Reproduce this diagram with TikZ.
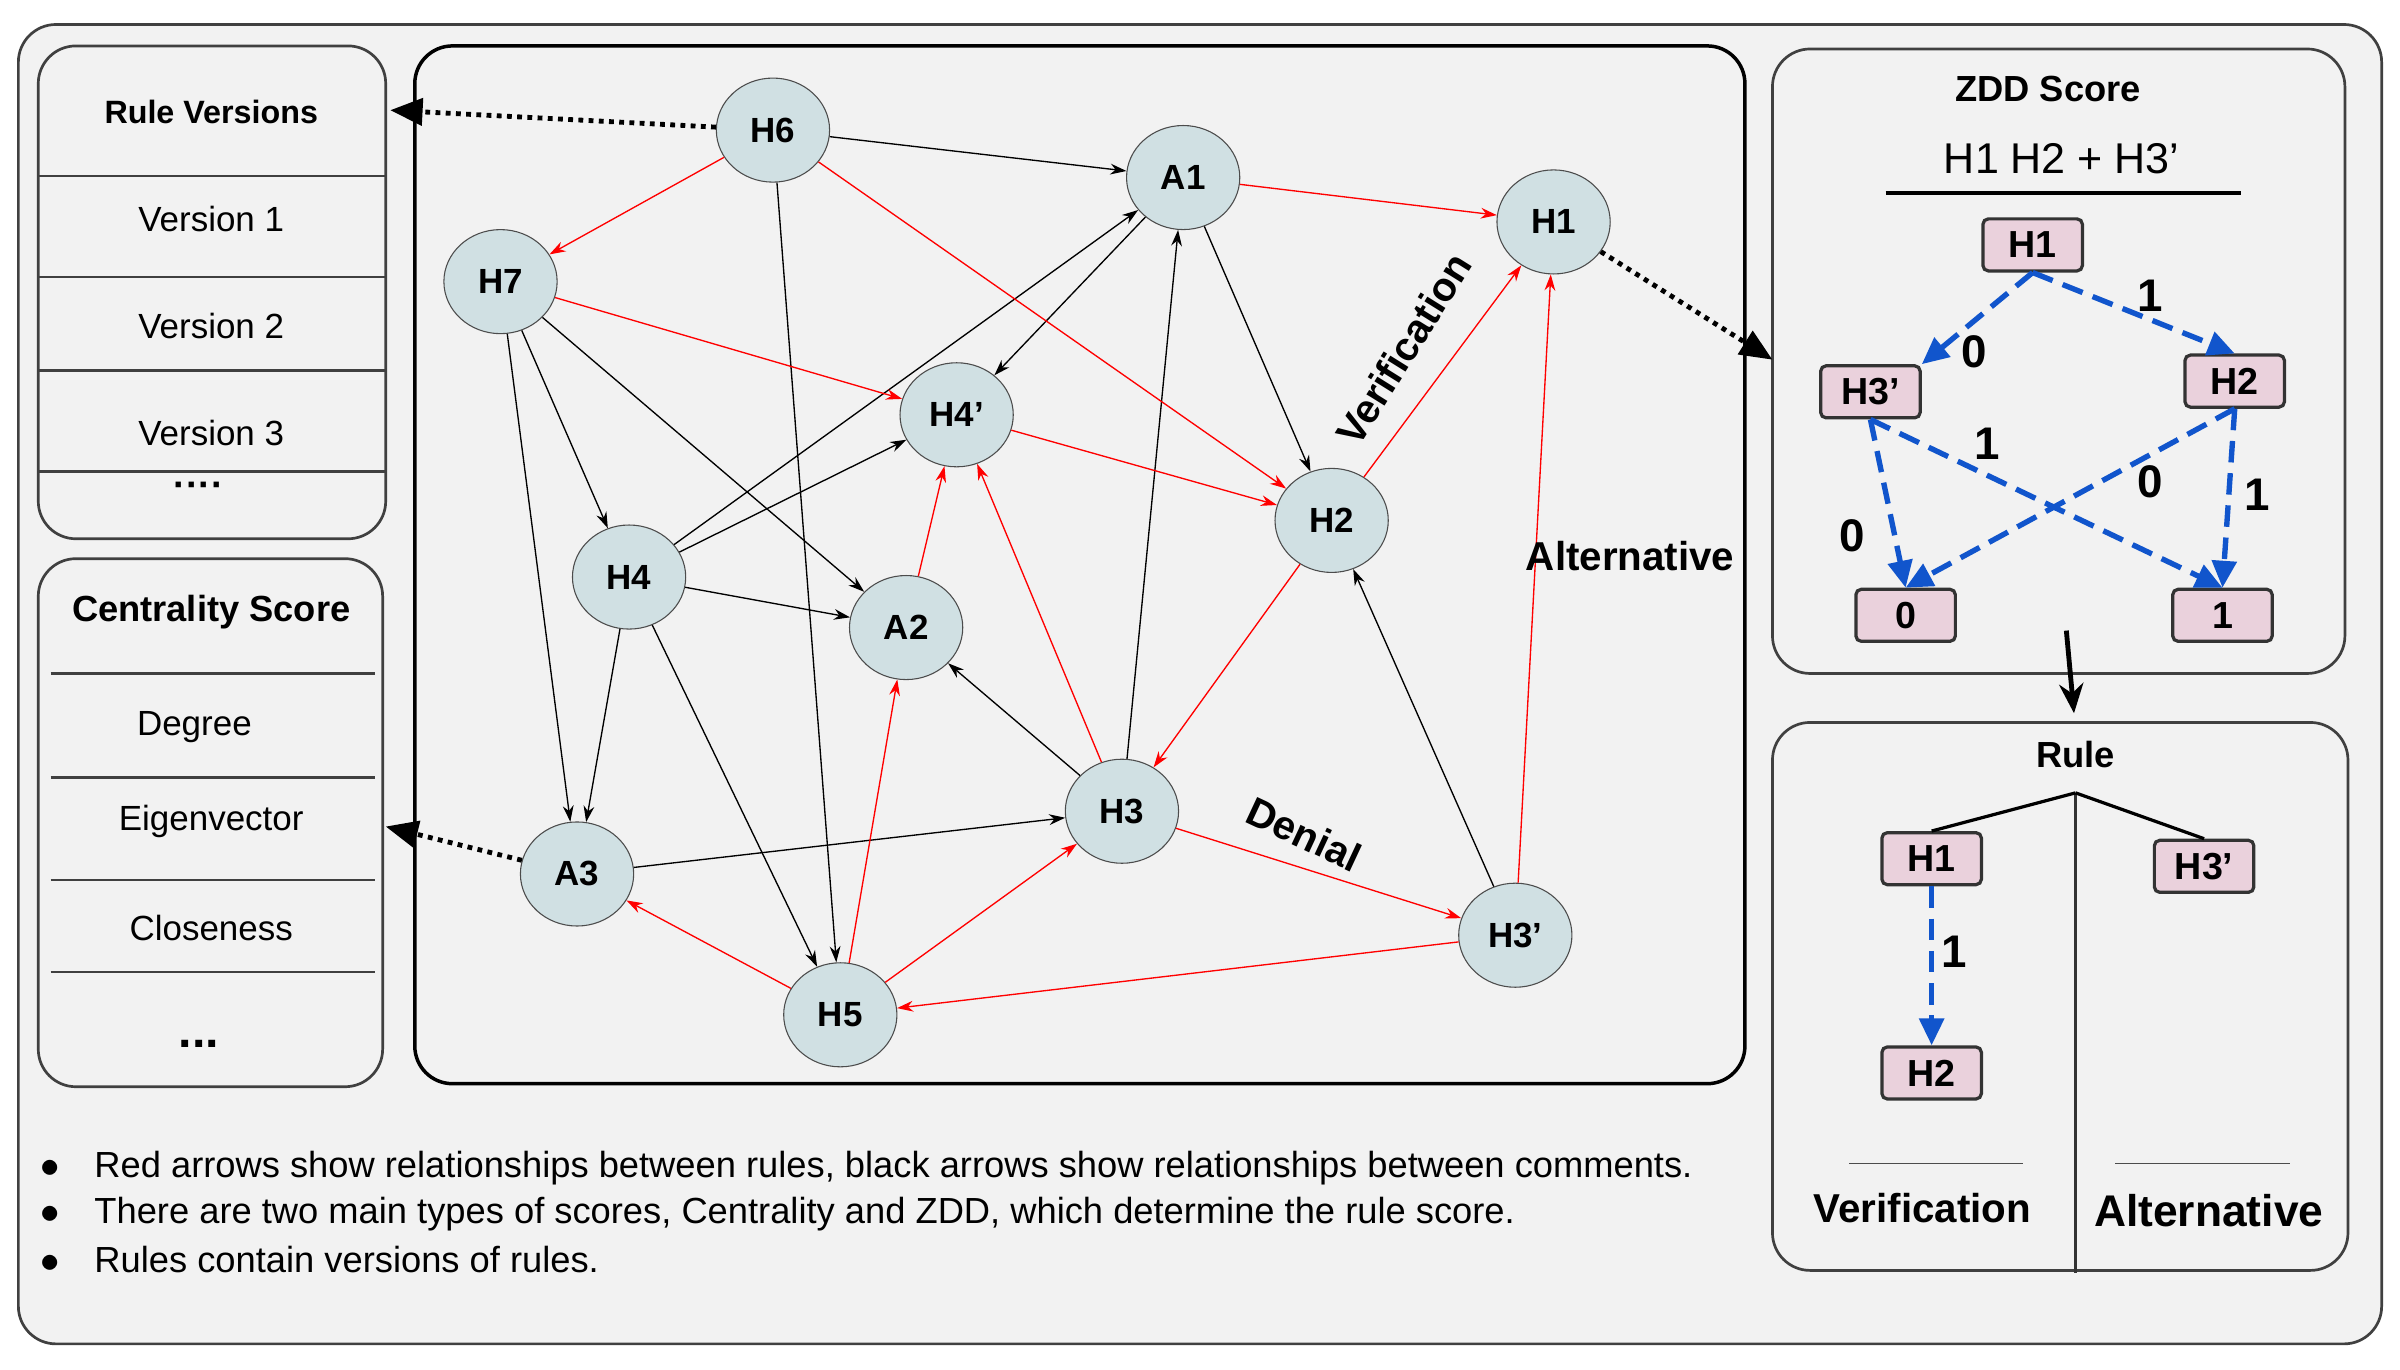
\documentclass[tikz,border=0pt]{standalone}
\usepackage{fontspec}
\setmainfont{Liberation Sans}
\usetikzlibrary{arrows.meta,shapes.geometric}
\definecolor{ndfill}{RGB}{208,224,227}
\definecolor{pkfill}{RGB}{234,209,220}
\definecolor{dblue}{RGB}{17,85,204}
\begin{document}
\begin{tikzpicture}[x=0.02cm,y=-0.02cm,
 box/.style={draw=black!75,line width=1pt,rounded corners=14pt,fill=gray!10},
 nd/.style={ellipse,draw=black!70,fill=ndfill,minimum width=1.48cm,minimum height=1.36cm,inner sep=0pt,font=\bfseries\fontsize{13}{14}\selectfont},
 pk/.style={rectangle,rounded corners=2pt,draw=black!80,line width=1.2pt,fill=pkfill,minimum width=1.3cm,minimum height=0.68cm,inner sep=1pt,font=\bfseries\fontsize{14}{15}\selectfont},
 txt/.style={font=\fontsize{13}{15}\selectfont},
 bk/.style={-{Stealth[length=6pt,width=4pt]},black,line width=0.5pt},
 rd/.style={-{Stealth[length=6pt,width=4pt]},red,line width=0.5pt},
 bl/.style={-{Triangle[length=10pt,width=9pt]},dblue,dashed,dash pattern=on 8pt off 4pt,line width=2pt},
 dt/.style={-{Triangle[length=12pt,width=10pt]},dotted,line width=1.8pt},
 lb/.style={font=\bfseries\fontsize{15}{16}\selectfont},
 zl/.style={font=\bfseries\fontsize{17}{18}\selectfont},
]
\path[use as bounding box,fill=white] (0,0) rectangle (1568,895);
\draw[box] (12,16) rectangle (1556,878);
% Rule versions
\draw[box] (25,30) rectangle (252,352);
\node[font=\bfseries\fontsize{12}{14}\selectfont] (rvt) at (138,73) {Rule Versions};
\foreach \y in {115,181,242,308} \draw[black!75,line width=1pt] (25,\y) -- (252,\y);
\node[txt] (v1) at (138,143) {Version 1};
\node[txt] (v2) at (138,213) {Version 2};
\node[txt] (v3) at (138,283) {Version 3};
\node[font=\bfseries\fontsize{14}{14}\selectfont] (vd) at (130,320) {····};
% Centrality
\draw[box] (25,365) rectangle (250,710);
\node[font=\bfseries\fontsize{13.5}{15}\selectfont] (cst) at (138,400) {Centrality Score};
\foreach \y in {440,508,575,635} \draw[black!75,line width=1pt] (33,\y) -- (245,\y);
\node[txt] (c1) at (127,475) {Degree};
\node[txt] (c2) at (138,537) {Eigenvector};
\node[txt] (c3) at (138,606) {Closeness};
\node[font=\bfseries\fontsize{18}{18}\selectfont] (c4) at (130,682) {...};
% graph box
\draw[box,draw=black,line width=1.3pt] (271,30) rectangle (1140,708);
\node[nd] (H6) at (505,85) {H6};
\node[nd] (A1) at (773,116) {A1};
\node[nd] (H1) at (1015,145) {H1};
\node[nd] (H7) at (327,184) {H7};
\node[nd] (H4p) at (625,271) {H4’};
\node[nd] (H2) at (870,340) {H2};
\node[nd] (H4) at (411,377) {H4};
\node[nd] (A2) at (592,410) {A2};
\node[nd] (H3) at (733,530) {H3};
\node[nd] (A3) at (377,571) {A3};
\node[nd] (H3p) at (990,611) {H3’};
\node[nd] (H5) at (549,663) {H5};
\foreach \a/\b in {H6/A1,H6/H5,H7/H4,H7/A2,H7/A3,H4/A1,H4/H4p,H4/A2,H4/A3,H4/H5,A1/H4p,A1/H2,H3/A1,H3/A2,H3p/H2,A3/H3}
  \draw[bk] (\a) -- (\b);
\foreach \a/\b in {A1/H1,H6/H7,H6/H2,H7/H4p,H4p/H2,A2/H4p,H3/H4p,H2/H3,H2/H1,H3/H3p,H3p/H1,H3p/H5,H5/A3,H5/A2,H5/H3}
  \draw[rd] (\a) -- (\b);
\node[lb,rotate=58,inner sep=0pt] (lver) at (917,228) {Verification};
\node[lb] (lalt) at (1065,363) {Alternative};
\node[lb,rotate=-25,inner sep=0pt] (lden) at (852,545) {Denial};
% ZDD
\draw[box] (1158,32) rectangle (1532,440);
\node[font=\bfseries\fontsize{13.5}{15}\selectfont] (zt) at (1338,58) {ZDD Score};
\node[font=\fontsize{16}{18}\selectfont] (zf) at (1347,104) {H1 H2 + H3’};
\draw[line width=1.3pt] (1232,126) -- (1464,126);
\node[pk] (z1) at (1328,160) {H1};
\node[pk] (z3) at (1222,256) {H3’};
\node[pk] (z2) at (1460,249) {H2};
\node[pk] (z0) at (1245,402) {0};
\node[pk] (zo) at (1452,402) {1};
\draw[bl] (z1.south) -- (z3.north east);
\draw[bl] (z1.south) -- (z2.north);
\draw[bl] (z3.south) -- (z0.north);
\draw[bl] (z3.south) -- (zo.north);
\draw[bl] (z2.south) -- (z0.north);
\draw[bl] (z2.south) -- (zo.north);
\node[zl] (l1) at (1290,230) {0};
\node[zl] (l2) at (1405,193) {1};
\node[zl] (l3) at (1210,350) {0};
\node[zl] (l4) at (1298,290) {1};
\node[zl] (l5) at (1405,315) {0};
\node[zl] (l6) at (1475,323) {1};
% Rule box
\draw[box] (1158,472) rectangle (1534,830);
\coordinate (za) at (1350,412);
\coordinate (zb) at (1355,466);
\draw[-{Stealth[length=11pt,width=9pt]},line width=1.8pt] (za) -- (zb);
\node[font=\bfseries\fontsize{13.5}{15}\selectfont] (rt) at (1356,493) {Rule};
\coordinate (rr) at (1356,518);
\coordinate (rb) at (1356,832);
\draw[line width=1pt,black!80] (rr) -- (rb);
\node[pk] (r1) at (1262,561) {H1};
\node[pk] (r3) at (1440,566) {H3’};
\node[pk] (r2) at (1262,701) {H2};
\draw[line width=1.2pt] (rr) -- (r1.north);
\draw[line width=1.2pt] (rr) -- (r3.north);
\draw[bl] (r1) -- (r2);
\node[zl] (l7) at (1277,622) {1};
\draw[black!70] (1208,760) -- (1322,760);
\draw[black!70] (1382,760) -- (1496,760);
\node[font=\bfseries\fontsize{15}{17}\selectfont] (rv) at (1256,789) {Verification};
\node[font=\bfseries\fontsize{16.5}{18}\selectfont] (ra) at (1443,791) {Alternative};
% dotted arrows
\coordinate (rvp) at (255,72);
\coordinate (csp) at (252,540);
\coordinate (zdp) at (1158,235);
\draw[dt] (H6) -- (rvp);
\draw[dt] (A3) -- (csp);
\draw[dt] (H1) -- (zdp);
% bullets
\node[anchor=west,font=\fontsize{13.5}{15}\selectfont] (b1) at (20,763) {$\bullet$\hspace{13pt}Red arrows show relationships between rules, black arrows show relationships between comments.};
\node[anchor=west,font=\fontsize{13.5}{15}\selectfont] (b2) at (20,793) {$\bullet$\hspace{13pt}There are two main types of scores, Centrality and ZDD, which determine the rule score.};
\node[anchor=west,font=\fontsize{13.5}{15}\selectfont] (b3) at (20,823) {$\bullet$\hspace{13pt}Rules contain versions of rules.};
\end{tikzpicture}
\end{document}
